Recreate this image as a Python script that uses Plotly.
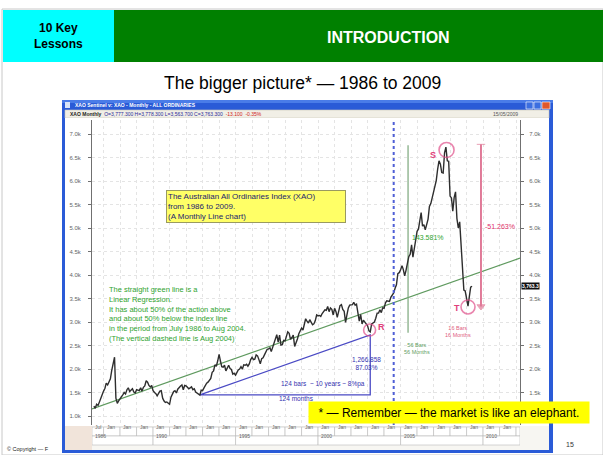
import pandas as pd
import plotly.graph_objects as go

W, H = 603, 455
FONT = "Liberation Sans, Arial, sans-serif"

# ─── Data: XAO monthly closes ──────────────────────────────────────────────────
xao_1986 = [1210, 1165, 1250, 1225, 1300, 1390, 1470]          # Jun–Dec
xao_1987 = [1530, 1590, 1700, 1660, 1720, 1790, 1970, 2150, 2250, 1380, 1270, 1320]
xao_1988 = [1360, 1390, 1450, 1500, 1470, 1560, 1600, 1520, 1550, 1580, 1510, 1490]
xao_1989 = [1560, 1550, 1540, 1600, 1530, 1610, 1640, 1750, 1720, 1650, 1620, 1650]
xao_1990 = [1540, 1500, 1480, 1430, 1480, 1530, 1540, 1380, 1320, 1290, 1300, 1280]
xao_1991 = [1250, 1400, 1450, 1520, 1540, 1490, 1570, 1610, 1640, 1660, 1560, 1650]
xao_1992 = [1640, 1610, 1580, 1600, 1620, 1560, 1580, 1510, 1490, 1470, 1445, 1550]
xao_1993 = [1540, 1600, 1650, 1700, 1720, 1750, 1800, 1930, 1960, 2090, 2060, 2170]
xao_1994 = [2310, 2170, 2050, 2040, 2080, 1960, 2040, 2080, 2010, 1990, 1890, 1910]
xao_1995 = [1870, 1950, 1980, 2000, 2050, 2000, 2090, 2080, 2100, 2060, 2110, 2200]
xao_1996 = [2250, 2200, 2210, 2300, 2280, 2200, 2110, 2220, 2240, 2300, 2370, 2420]
xao_1997 = [2430, 2450, 2370, 2460, 2570, 2620, 2730, 2570, 2720, 2510, 2520, 2610]
xao_1998 = [2600, 2700, 2790, 2760, 2630, 2670, 2720, 2480, 2550, 2640, 2750, 2810]
xao_1999 = [2870, 2830, 2920, 3070, 3020, 2980, 3050, 3000, 2940, 2960, 3030, 3150]
xao_2000 = [3130, 3140, 3120, 3180, 3210, 3260, 3250, 3330, 3220, 3300, 3270, 3150]
xao_2001 = [3290, 3220, 3100, 3230, 3350, 3370, 3270, 3230, 2990, 3150, 3300, 3360]
xao_2002 = [3360, 3370, 3420, 3360, 3380, 3160, 3020, 3160, 2960, 3040, 3000, 2980]
xao_2003 = [2920, 2810, 2790, 2960, 2980, 3000, 3080, 3190, 3190, 3260, 3200, 3300]
xao_2004 = [3290, 3410, 3450, 3450, 3440, 3530, 3590, 3620, 3720, 3790, 4030, 4050]
xao_2005 = [4110, 4200, 4120, 3980, 4100, 4270, 4390, 4440, 4640, 4380, 4560, 4710]
xao_2006 = [4930, 4980, 5130, 5330, 5040, 5070, 4960, 5100, 5190, 5460, 5520, 5640]
xao_2007 = [5760, 5850, 6010, 6250, 6430, 6360, 6180, 6170, 6600, 6720, 6430, 6420]
xao_2008 = [5680, 5640, 5360, 5650, 5770, 5200, 5000, 5130, 4630, 3990, 3680, 3660]
xao_2009 = [3480, 3340, 3530, 3740, 3760]                     # Jan–May

closes = (xao_1986 + xao_1987 + xao_1988 + xao_1989 + xao_1990 + xao_1991 + xao_1992
          + xao_1993 + xao_1994 + xao_1995 + xao_1996 + xao_1997 + xao_1998 + xao_1999
          + xao_2000 + xao_2001 + xao_2002 + xao_2003 + xao_2004 + xao_2005 + xao_2006
          + xao_2007 + xao_2008 + xao_2009)
dates = pd.date_range("1986-06-01", periods=len(closes), freq="MS")

# linear regression line (end points)
reg_dates = ["1986-04-20", "2012-03-28"]
reg_values = [1150, 4360]

# blue measuring triangle (Nov 1992 low -> Mar 2003 R)
tri_dates = ["1992-11-01", "2003-03-01", "2003-03-01", "1992-11-01"]
tri_values = [1450, 1450, 2725, 1450]

# green rise measure and red fall measure
rise_dates = ["2005-06-15", "2005-06-15"]
rise_values = [2770, 6760]
fall_dates = ["2009-11-15", "2009-11-15"]
fall_values = [6780, 3330]

# circled turning points
point_labels = ["S", "R", "T"]
point_dates = ["2007-10-15", "2003-02-15", "2009-02-01"]
point_values = [6660, 2830, 3320]

last_close = 3763.3
aug_2004 = "2004-08-01"

y_ticks = list(range(1000, 7001, 500))
y_ticktext = [f"{v / 1000:.1f}k" for v in y_ticks]
year_cells = list(range(1987, 2013))
decade_marks = [1990, 1995, 2000, 2005, 2010]

X_RANGE = ["1986-04-20", "2012-03-28"]
Y_RANGE = [809, 7298]


def px(x):
    return x / W


def py(y):
    return 1 - y / H


def rect(x0, y0, x1, y1, fill, line=None, lw=0, xref="paper"):
    if xref == "paper":
        x0, x1 = px(x0), px(x1)
    return dict(type="rect", xref=xref, yref="paper", layer="below",
                x0=x0, x1=x1, y0=py(y0), y1=py(y1), fillcolor=fill,
                line=dict(color=line or fill, width=lw))


def txt(text, x, y, size=7, color="#000", xanchor="center", yanchor="middle",
        xref="paper", yref="paper", **kw):
    return dict(text=text, x=px(x) if xref == "paper" else x,
                y=py(y) if yref == "paper" else y, xref=xref, yref=yref,
                xanchor=xanchor, yanchor=yanchor, showarrow=False,
                font=dict(family=FONT, size=size, color=color), **kw)


fig = go.Figure()

# ─── Traces ─────────────────────────────────────────────────────────────────────
fig.add_trace(go.Scatter(x=reg_dates, y=reg_values, mode="lines",
                         line=dict(color="#5f9a5f", width=1.3), hoverinfo="skip"))
fig.add_trace(go.Scatter(x=tri_dates, y=tri_values, mode="lines",
                         line=dict(color="#4a4ac4", width=1.3), hoverinfo="skip"))
fig.add_trace(go.Scatter(x=rise_dates, y=rise_values, mode="lines",
                         line=dict(color="#7ba77b", width=1.2), hoverinfo="skip"))
fig.add_trace(go.Scatter(x=fall_dates, y=fall_values, mode="lines+markers",
                         line=dict(color="#e07a98", width=2),
                         marker=dict(symbol=["line-ew", "triangle-down"], size=[6, 7],
                                     color="#e07a98", line=dict(color="#e07a98", width=1)),
                         hoverinfo="skip"))
fig.add_trace(go.Scatter(x=dates, y=closes, mode="lines",
                         line=dict(color="#2e2e2e", width=1.4),
                         hovertemplate="%{x|%b %Y}: %{y:,.0f}<extra></extra>"))
fig.add_trace(go.Scatter(x=point_dates, y=point_values, mode="markers",
                         marker=dict(symbol="circle-open", size=[15, 12, 14], color="#e0508a",
                                     line=dict(width=1.6)),
                         hoverinfo="skip"))
# invisible trace to carry the right-hand axis
fig.add_trace(go.Scatter(x=dates[:1], y=closes[:1], yaxis="y2", mode="markers",
                         marker=dict(opacity=0), hoverinfo="skip"))

# ─── Slide and window furniture ────────────────────────────────────────────────
shapes = [
    rect(2, 9, 603, 455, "#ffffff", "#c8c8c8", 1),
    rect(3, 10, 114, 62, "#00ffff"),
    rect(114, 10, 603, 62, "#008000"),
    # window frame
    rect(62, 100, 553, 453, "#2a5bd7"),
    rect(62, 100, 553, 103, "#4a7ce8"),
    rect(65, 110, 549, 118, "#f1efe6", "#c9c6b8", 0.6),
    rect(65, 118, 549, 450, "#ffffff"),
    rect(65, 426, 549, 450, "#f7f6f2"),
    rect(65, 426, 92, 450, "#f1e4da"),
    # caption buttons
    rect(526, 102, 533, 109, "#3b6ee0", "#ffffff", 0.6),
    rect(534, 102, 541, 109, "#3b6ee0", "#ffffff", 0.6),
    rect(542, 102, 550, 109, "#e0582c", "#ffffff", 0.6),
    rect(65, 102, 70, 108, "#d8e4f8"),
]
# date axis cells
for i, yr in enumerate(year_cells):
    x0 = X_RANGE[0] if i == 0 else f"{yr - 1}-01-01"
    shapes.append(rect(x0, 427, f"{yr}-01-01", 436, "#ffffff", "#b8b8b8", 0.6, xref="x"))
shapes.append(rect(f"{year_cells[-1]}-01-01", 427, X_RANGE[1], 436, "#ffffff", "#b8b8b8", 0.6, xref="x"))
edges = [X_RANGE[0]] + [f"{y}-01-01" for y in decade_marks] + [X_RANGE[1]]
for a, b in zip(edges[:-1], edges[1:]):
    shapes.append(rect(a, 436, b, 445, "#ffffff", "#b8b8b8", 0.6, xref="x"))

# dashed Aug 2004 line
shapes.append(dict(type="line", xref="x", yref="paper", x0=aug_2004, x1=aug_2004,
                   y0=py(425), y1=py(121), line=dict(color="#4f5fd6", width=2, dash="dot")))

annotations = [
    txt("<b>10 Key<br>Lessons</b>", 58, 36, size=12),
    txt("<b>INTRODUCTION</b>", 389, 37, size=16, color="#ffffff"),
    txt("The bigger picture* — 1986 to 2009", 302, 83, size=17.5),
    txt("<b>XAO Sentinel v: XAO - Monthly - ALL ORDINARIES</b>", 73, 105, size=5,
        color="#ffffff", xanchor="left"),
    txt("<b>XAO Monthly</b>  <span style='color:#2a2a9a'>O=3,777.300 H=3,778.300 "
        "L=3,563.700 C=3,763.300</span>  <span style='color:#d02020'>-13.100  -0.35%</span>",
        68, 114, size=5, color="#222", xanchor="left"),
    txt("15/05/2009", 520, 114, size=5, color="#555", xanchor="right"),
    # chart notes
    txt("The Australian All Ordinaries Index (XAO)<br>from 1986 to 2009.<br>(A Monthly Line chart)",
        166, 190, size=8, color="#23236e", xanchor="left", yanchor="top", align="left",
        bgcolor="#ffff66", bordercolor="#9a9a60", borderwidth=1, borderpad=1,
        width=176, height=29),
    txt("The straight green line is a<br>Linear Regression.<br>"
        "It has about 50% of the action above<br>and about 50% below the index line<br>"
        "in the period from July 1986 to Aug 2004.<br>(The vertical dashed line is Aug 2004)",
        107, 283, size=7.5, color="#2fa32f", xanchor="left", yanchor="top", align="left"),
    txt("143.581%", rise_dates[0], 4790, size=7, color="#2fa32f", xref="x", yref="y",
        xanchor="left", xshift=2),
    txt("-51.263%", fall_dates[0], 5030, size=7, color="#e0306a", xref="x", yref="y",
        xanchor="left", xshift=2),
    txt("56 Bars<br>56 Months", "2006-01-01", 2430, size=5.5, color="#5fa05f",
        xref="x", yref="y"),
    txt("16 Bars<br>16 Months", "2008-07-01", 2800, size=5.5, color="#e0607f",
        xref="x", yref="y"),
    txt("1,266.858<br>87.03%", "2002-12-01", 2110, size=6.5, color="#3333b0",
        xref="x", yref="y"),
    txt("124 bars  ~ 10 years ~ 8%pa", "2002-12-20", 1690, size=6.5, color="#3333b0",
        xref="x", yref="y", xanchor="right"),
    txt("124 months", "1998-09-01", 1370, size=6.5, color="#3333b0", xref="x", yref="y"),
    txt(f"<b>{last_close:,.1f}</b>", 521, last_close, size=5, color="#ffffff",
        yref="y", xanchor="left", bgcolor="#111111", borderpad=0),
    # slide footer
    txt("* — Remember — the market is like an elephant.", 449, 412, size=12,
        bgcolor="#ffff00", width=278, height=19),
    txt("15", 570, 444, size=7, color="#333"),
    txt("© Copyright — F", 5, 449, size=5.5, color="#222", xanchor="left"),
]

for lab, d, v in zip(point_labels, point_dates, point_values):
    off = {"S": (-14, 5), "R": (12, -3), "T": (-11, 1)}[lab]
    annotations.append(dict(text=f"<b>{lab}</b>", x=d, y=v, xref="x", yref="y",
                            xshift=off[0], yshift=-off[1], showarrow=False,
                            font=dict(family=FONT, size=9, color="#e0407a")))

# date axis labels
for i, yr in enumerate(year_cells):
    d = X_RANGE[0] if i == 0 else f"{yr - 1}-01-01"
    annotations.append(dict(text="Jul" if i == 0 else "Jan", x=d, y=py(431.5),
                            xref="x", yref="paper", xanchor="left", xshift=1,
                            showarrow=False, font=dict(family=FONT, size=5, color="#666")))
for yr, d in zip([1986] + decade_marks, edges[:-1]):
    annotations.append(dict(text=str(yr), x=d, y=py(440.5), xref="x", yref="paper",
                            xanchor="left", xshift=1, showarrow=False,
                            font=dict(family=FONT, size=5, color="#666")))

axis_common = dict(
    range=Y_RANGE, tickvals=y_ticks,
    showline=True, linecolor="#707070", linewidth=1,
    ticks="outside", ticklen=3, tickcolor="#707070",
    tickfont=dict(family=FONT, size=6, color="#666"),
    zeroline=False, fixedrange=True,
)

fig.update_layout(
    width=W, height=H,
    margin=dict(l=0, r=0, t=0, b=0),
    paper_bgcolor="#ffffff",
    plot_bgcolor="rgba(0,0,0,0)",
    showlegend=False,
    xaxis=dict(domain=[px(92), px(520)], range=X_RANGE, type="date",
               tickvals=[f"{y}-01-01" for y in year_cells], showticklabels=False,
               showgrid=True, gridcolor="#e4e4e4", griddash="dot",
               zeroline=False, showline=False, ticks="", fixedrange=True),
    yaxis=dict(domain=[py(425), py(120)], showgrid=True, gridcolor="#e4e4e4",
               griddash="dot", ticklabelstandoff=6, ticktext=y_ticktext, **axis_common),
    # right-hand labels: the lowest one sits behind the footer note
    yaxis2=dict(overlaying="y", side="right", anchor="x", showgrid=False,
                ticklabelstandoff=4, ticktext=[""] + y_ticktext[1:], **axis_common),
    shapes=shapes,
    annotations=annotations,
)

# the page's default body margin would push the 603x455 slide off by 8 px
fig.write_html("out.html", config={"displayModeBar": False},
               post_script="document.body.style.margin = '0px';")
